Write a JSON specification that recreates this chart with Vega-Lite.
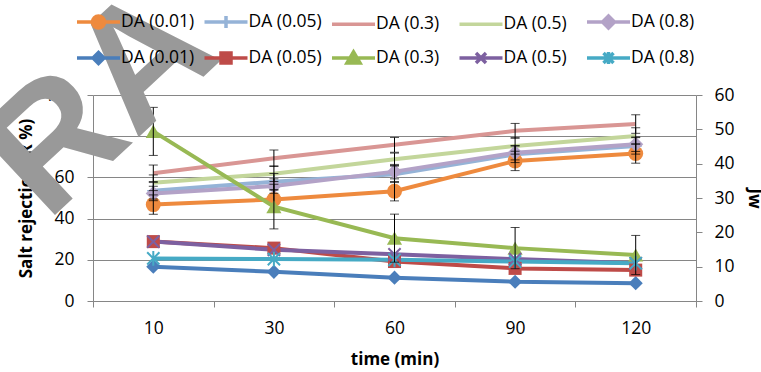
{
"$schema":"https://vega.github.io/schema/vega-lite/v6.json",
"width":603,"height":206,
"autosize":{"type":"none"},
"padding":{"left":93,"top":95,"right":65,"bottom":71},
"config":{
 "view":{"stroke":null},
 "font":"Open Sans",
 "axis":{"domainColor":"#868686","tickColor":"#868686","labelFontSize":17.5,"labelColor":"black","titleFontSize":17,"titleFontWeight":"bold","titleColor":"black","gridColor":"#868686","tickSize":6,"labelFont":"Open Sans","titleFont":"Open Sans"}
},
"datasets":{
 "k":[{"s":"R 0.01"},{"s":"R 0.05"},{"s":"R 0.3"},{"s":"R 0.5"},{"s":"R 0.8"},{"s":"J 0.01"},{"s":"J 0.05"},{"s":"J 0.3"},{"s":"J 0.5"},{"s":"J 0.8"}],
 "w":[{"label":"RA","t":"10","v":119.4}],
 "r":[
  {"s":"R 0.01","t":"10","v":46.8,"e":4.7},{"s":"R 0.01","t":"30","v":49.3,"e":4.7},{"s":"R 0.01","t":"60","v":53.3,"e":4.7},{"s":"R 0.01","t":"90","v":68,"e":4.7},{"s":"R 0.01","t":"120","v":71.6,"e":4.7},
  {"s":"R 0.05","t":"10","v":53.5,"e":4},{"s":"R 0.05","t":"30","v":57.9,"e":4},{"s":"R 0.05","t":"60","v":61.5,"e":4},{"s":"R 0.05","t":"90","v":71.2,"e":4},{"s":"R 0.05","t":"120","v":75.3,"e":4},
  {"s":"R 0.3","t":"10","v":62,"e":4},{"s":"R 0.3","t":"30","v":69.3,"e":4},{"s":"R 0.3","t":"60","v":75.8,"e":3.6},{"s":"R 0.3","t":"90","v":82.6,"e":3.6},{"s":"R 0.3","t":"120","v":85.9,"e":4.5},
  {"s":"R 0.5","t":"10","v":57.4,"e":3.8},{"s":"R 0.5","t":"30","v":61.8,"e":3.8},{"s":"R 0.5","t":"60","v":68.8,"e":3},{"s":"R 0.5","t":"90","v":75.3,"e":4},{"s":"R 0.5","t":"120","v":80.1,"e":4},
  {"s":"R 0.8","t":"10","v":52.2,"e":3.5},{"s":"R 0.8","t":"30","v":55.8,"e":3.5},{"s":"R 0.8","t":"60","v":62.8,"e":3.5},{"s":"R 0.8","t":"90","v":72,"e":3.5},{"s":"R 0.8","t":"120","v":76.1,"e":3.5}
 ],
 "j":[
  {"s":"J 0.01","t":"10","v":10},{"s":"J 0.01","t":"30","v":8.5},{"s":"J 0.01","t":"60","v":6.8},{"s":"J 0.01","t":"90","v":5.6},{"s":"J 0.01","t":"120","v":5.2},
  {"s":"J 0.05","t":"10","v":17.3},{"s":"J 0.05","t":"30","v":15.4},{"s":"J 0.05","t":"60","v":11.5},{"s":"J 0.05","t":"90","v":9.5},{"s":"J 0.05","t":"120","v":9},
  {"s":"J 0.3","t":"10","v":49.4,"e":7},{"s":"J 0.3","t":"30","v":27.5,"e":6.5},{"s":"J 0.3","t":"60","v":18.3,"e":7},{"s":"J 0.3","t":"90","v":15.4,"e":6},{"s":"J 0.3","t":"120","v":13.4,"e":5.7},
  {"s":"J 0.5","t":"10","v":17.3},{"s":"J 0.5","t":"30","v":14.9},{"s":"J 0.5","t":"60","v":13.6},{"s":"J 0.5","t":"90","v":12.2},{"s":"J 0.5","t":"120","v":11},
  {"s":"J 0.8","t":"10","v":12.4},{"s":"J 0.8","t":"30","v":12.2},{"s":"J 0.8","t":"60","v":12},{"s":"J 0.8","t":"90","v":11.5},{"s":"J 0.8","t":"120","v":11}
 ]
},
"layer":[
 {"data":{"name":"k"},
  "mark":{"type":"point","opacity":0,"filled":true},
  "encoding":{
   "color":{"field":"s","type":"nominal",
     "scale":{"domain":["R 0.01","R 0.05","R 0.3","R 0.5","R 0.8","J 0.01","J 0.05","J 0.3","J 0.5","J 0.8"],"range":["#EE8A3E","#95B3D7","#D99694","#C3D69B","#B3A2C7","#4A7EBB","#BE4B48","#98B954","#7D60A0","#46AAC5"]},
     "legend":{"orient":"none","legendX":-6.5,"legendY":-85,"direction":"horizontal","columns":5,"title":null,"padding":0,
       "symbolSize":400,"symbolStrokeWidth":3.5,"symbolOpacity":1,"labelOffset":10.5,"columnPadding":2.5,"rowPadding":10,"gridAlign":"all",
       "labelFontSize":17.5,"labelFont":"Open Sans","labelColor":"black","labelExpr":"'DA (' + slice(datum.label, 2) + ')'",
       "encode":{"symbols":{"update":{"fill":{"signal":"scale('color', datum.value)"},"stroke":{"signal":"scale('color', datum.value)"}}}}}},
   "shape":{"field":"s","type":"nominal",
     "scale":{"domain":["R 0.01","R 0.05","R 0.3","R 0.5","R 0.8","J 0.01","J 0.05","J 0.3","J 0.5","J 0.8"],
       "range":[
        "M-2.15,0H2.15M-0.6,0A0.6,0.6 0 1,0 0.6,0A0.6,0.6 0 1,0 -0.6,0Z",
        "M-2.15,0H2.15M0,-0.6V0.6",
        "M-2.15,0H2.15",
        "M-2.15,0H2.15",
        "M-2.15,0H2.15M0,-0.6L0.6,0L0,0.6L-0.6,0Z",
        "M-2.15,0H2.15M0,-0.55L0.55,0L0,0.55L-0.55,0Z",
        "M-2.15,0H2.15M-0.5,-0.5H0.5V0.5H-0.5Z",
        "M-2.15,0H2.15M0,-0.6L0.65,0.5H-0.65Z",
        "M-2.15,0H2.15M-0.5,-0.5L0.5,0.5M-0.5,0.5L0.5,-0.5",
        "M-2.15,0H2.15M-0.5,-0.5L0.5,0.5M-0.5,0.5L0.5,-0.5M0,-0.6V0.6"]},
     "legend":{"orient":"none","legendX":-6.5,"legendY":-85,"direction":"horizontal","columns":5,"title":null,"padding":0,
       "symbolSize":400,"symbolStrokeWidth":3.5,"symbolOpacity":1,"labelOffset":10.5,"columnPadding":2.5,"rowPadding":10,"gridAlign":"all",
       "labelFontSize":17.5,"labelFont":"Open Sans","labelColor":"black","labelExpr":"'DA (' + slice(datum.label, 2) + ')'",
       "encode":{"symbols":{"update":{"fill":{"signal":"scale('color', datum.value)"},"stroke":{"signal":"scale('color', datum.value)"}}}}}}
  }},
 {"data":{"name":"r"},
  "encoding":{
   "x":{"field":"t","type":"ordinal","sort":["10","30","60","90","120"],"scale":{"type":"band","paddingInner":0,"paddingOuter":0},
        "axis":{"title":"time (min)","labelAngle":0,"tickBand":"extent","labelPadding":12,"titlePadding":15}},
   "y":{"field":"v","type":"quantitative","scale":{"domain":[0,100]},
        "axis":{"values":[0,20,40,60,80,100],"title":"Salt rejection (R %)","grid":true,"labelPadding":13,"titlePadding":8}},
   "color":{"field":"s","type":"nominal","scale":{"domain":["R 0.01","R 0.05","R 0.3","R 0.5","R 0.8","J 0.01","J 0.05","J 0.3","J 0.5","J 0.8"],"range":["#EE8A3E","#95B3D7","#D99694","#C3D69B","#B3A2C7","#4A7EBB","#BE4B48","#98B954","#7D60A0","#46AAC5"]}}
  },
  "layer":[
   {"mark":{"type":"line","strokeWidth":4}},
   {"transform":[{"filter":"datum.s == 'R 0.05'"}],"mark":{"type":"point","filled":false,"shape":"M0,-1V1M-1,0H1","size":150,"strokeWidth":1.5,"opacity":1}},
   {"transform":[{"filter":"datum.s == 'R 0.01'"}],"mark":{"type":"point","filled":true,"shape":"circle","size":225,"opacity":1}},
   {"transform":[{"filter":"datum.s == 'R 0.8'"}],"mark":{"type":"point","filled":true,"shape":"diamond","size":230,"opacity":1}},
   {"mark":{"type":"errorbar","ticks":true,"size":9,"thickness":1},"encoding":{"yError":{"field":"e"},"color":{"value":"black"}}}
  ]},
 {"data":{"name":"j"},
  "encoding":{
   "x":{"field":"t","type":"ordinal","sort":["10","30","60","90","120"]},
   "y":{"field":"v","type":"quantitative","scale":{"domain":[0,60]},
        "axis":{"orient":"right","values":[0,10,20,30,40,50,60],"title":"Jw","grid":false,"labelPadding":12,"titlePadding":10,"titleAngle":90}},
   "color":{"field":"s","type":"nominal","scale":{"domain":["R 0.01","R 0.05","R 0.3","R 0.5","R 0.8","J 0.01","J 0.05","J 0.3","J 0.5","J 0.8"],"range":["#EE8A3E","#95B3D7","#D99694","#C3D69B","#B3A2C7","#4A7EBB","#BE4B48","#98B954","#7D60A0","#46AAC5"]}}
  },
  "layer":[
   {"mark":{"type":"line","strokeWidth":4}},
   {"transform":[{"filter":"datum.s == 'J 0.01'"}],"mark":{"type":"point","filled":true,"shape":"diamond","size":200,"opacity":1}},
   {"transform":[{"filter":"datum.s == 'J 0.05'"}],"mark":{"type":"point","filled":true,"shape":"square","size":170,"opacity":1}},
   {"transform":[{"filter":"datum.s == 'J 0.3'"}],"mark":{"type":"point","filled":true,"shape":"triangle-up","size":230,"opacity":1}},
   {"transform":[{"filter":"datum.s == 'J 0.5'"}],"mark":{"type":"point","filled":false,"shape":"M-1,-1L1,1M-1,1L1,-1","size":150,"strokeWidth":2,"opacity":1}},
   {"transform":[{"filter":"datum.s == 'J 0.8'"}],"mark":{"type":"point","filled":false,"shape":"M-1,-1L1,1M-1,1L1,-1M0,-1.2V1.2","size":150,"strokeWidth":2,"opacity":1}},
   {"transform":[{"filter":"datum.e > 0"}],"mark":{"type":"errorbar","ticks":true,"size":9,"thickness":1},"encoding":{"yError":{"field":"e"},"color":{"value":"black"}}}
  ]},
 {"data":{"name":"w"},
  "mark":{"type":"text","fontSize":168,"fontWeight":"bold","font":"Liberation Sans","angle":-43,"align":"center","baseline":"middle","color":"#999999","dx":-71},
  "encoding":{
   "x":{"field":"t","type":"ordinal","sort":["10","30","60","90","120"]},
   "y":{"field":"v","type":"quantitative","scale":{"domain":[0,100]},"axis":null},
   "text":{"field":"label"}
  }}
],
"resolve":{"scale":{"y":"independent"}}
}
